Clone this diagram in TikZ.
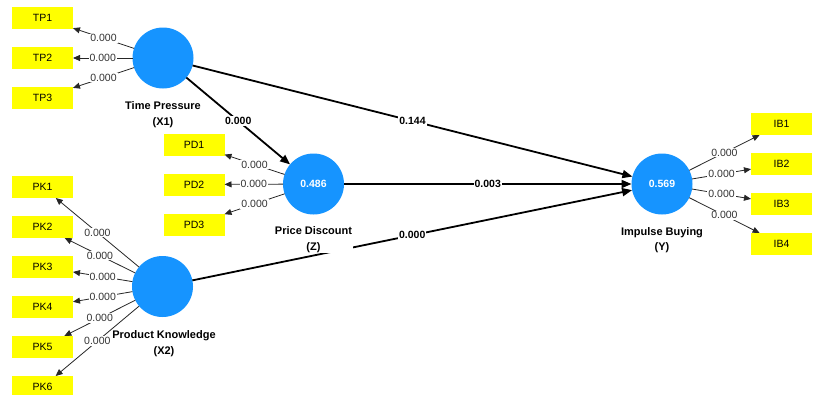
\documentclass[tikz,border=0pt]{standalone}
\usepackage{fontspec}
\setmainfont{Liberation Sans}
\usetikzlibrary{arrows.meta}
\definecolor{lvblue}{RGB}{22,148,255}
\definecolor{mvyellow}{RGB}{255,255,0}
\begin{document}
\begin{tikzpicture}[x=1pt,y=-1pt,
  lv/.style={circle, fill=lvblue, minimum size=61pt, inner sep=0pt, outer sep=0pt, text=white, font=\bfseries\fontsize{10.5}{12}\selectfont},
  mv/.style={rectangle, fill=mvyellow, minimum width=61pt, minimum height=22pt, inner sep=0pt, outer sep=0pt, font=\fontsize{10.5}{12}\selectfont},
  lvlbl/.style={fill=white, align=center, inner sep=1pt, font=\bfseries\fontsize{11}{15.5}\selectfont},
  load/.style={draw=black!85, line width=0.8pt, -{Triangle[length=7pt,width=6pt]}},
  inner/.style={draw=black, line width=1.8pt, -{Triangle[length=10pt,width=8pt]}},
  lw/.style={fill=white, inner sep=1pt, text=black!80, font=\fontsize{10.5}{12}\selectfont},
  pw/.style={fill=white, inner sep=1pt, font=\bfseries\fontsize{10.5}{12}\selectfont}
]
\useasboundingbox (0,0) rectangle (817,394);
% latent variables
\node[lv] (x1) at (163,58) {};
\node[lv] (x2) at (162.5,286.5) {};
\node[lv] (z) at (313.5,184) {0.486};
\node[lv] (y) at (662,184) {0.569};
% indicators
\node[mv] (tp1) at (42.5,18) {TP1};
\node[mv] (tp2) at (42.5,58) {TP2};
\node[mv] (tp3) at (42.5,98) {TP3};
\node[mv] (pk1) at (42.5,187) {PK1};
\node[mv] (pk2) at (42.5,227) {PK2};
\node[mv] (pk3) at (42.5,267) {PK3};
\node[mv] (pk4) at (42.5,307) {PK4};
\node[mv] (pk5) at (42.5,347) {PK5};
\node[mv] (pk6) at (42.5,387) {PK6};
\node[mv] (pd1) at (194,144.5) {PD1};
\node[mv] (pd2) at (194,184.5) {PD2};
\node[mv] (pd3) at (194,224.5) {PD3};
\node[mv] (ib1) at (781.5,124) {IB1};
\node[mv] (ib2) at (781.5,164) {IB2};
\node[mv] (ib3) at (781.5,204) {IB3};
\node[mv] (ib4) at (781.5,244) {IB4};
% structural paths
\draw[inner] (x1) -- node[pw]{0.000} (z);
\draw[inner] (x1) -- node[pw]{0.144} (y);
\draw[inner] (z) -- node[pw]{0.003} (y);
\draw[inner] (x2) -- node[pw]{0.000} (y);
% construct labels
\node[lvlbl] (lx1) at (163,114.5) {Time Pressure\\(X1)};
\node[lvlbl] (lx2) at (164,343.5) {Product Knowledge\\(X2)};
\node[lvlbl] (lz) at (313.5,239.5) {Price Discount\\(Z)};
\node[lvlbl] (ly) at (662,240) {Impulse Buying\\(Y)};
% loadings
\foreach \t in {tp1,tp2,tp3}{\draw[load] (x1) -- node[lw]{0.000} (\t);}
\foreach \t in {pk1,pk2,pk3,pk4,pk5,pk6}{\draw[load] (x2) -- node[lw]{0.000} (\t);}
\foreach \t in {pd1,pd2,pd3}{\draw[load] (z) -- node[lw]{0.000} (\t);}
\foreach \t in {ib1,ib2,ib3,ib4}{\draw[load] (y) -- node[lw]{0.000} (\t);}
\end{tikzpicture}
\end{document}
